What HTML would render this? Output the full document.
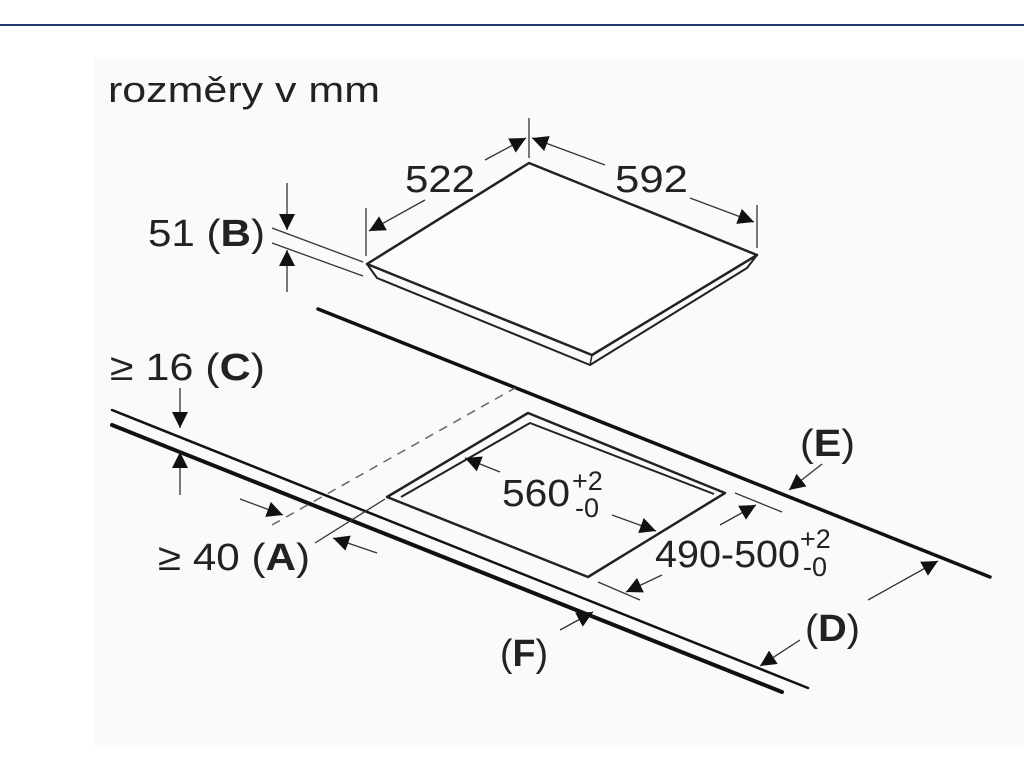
<!DOCTYPE html>
<html><head><meta charset="utf-8"><style>
html,body{margin:0;padding:0;background:#fff;width:1024px;height:768px;overflow:hidden}
svg{display:block}
text{font-family:"Liberation Sans",sans-serif;fill:#222}
</style></head><body>
<svg width="1024" height="768" viewBox="0 0 1024 768" xmlns="http://www.w3.org/2000/svg">
<defs>
<marker id="a" viewBox="0 0 10 10" refX="10" refY="5" markerWidth="16" markerHeight="16" markerUnits="userSpaceOnUse" orient="auto">
<path d="M0,0 L10,5 L0,10 z" fill="#111"/></marker>
</defs>
<rect x="0" y="0" width="1024" height="768" fill="#fff"/>
<rect x="95" y="57" width="929" height="690" fill="#fafafa"/>
<line x1="0" y1="25" x2="1024" y2="25" stroke="#1f3a6a" stroke-width="2"/>

<text x="108" y="102" font-size="36" textLength="272" lengthAdjust="spacingAndGlyphs">rozměry v mm</text>

<g stroke="#222" fill="none" stroke-linejoin="round">
<polygon points="367,264 529,163 757,255 592,355" stroke-width="2.5" fill="#fcfcfc"/>
<polyline points="367,264 377,278 590,365 747,268 757,255" stroke-width="2"/>
<line x1="592" y1="355" x2="590" y2="365" stroke-width="1.5"/>
</g>

<g stroke="#111" stroke-linecap="round">
<line x1="318" y1="309" x2="990" y2="577" stroke-width="3.5"/>
<line x1="112" y1="410" x2="808" y2="688" stroke-width="2.5"/>
<line x1="112" y1="425" x2="782" y2="692" stroke-width="4"/>
</g>
<g stroke="#222" fill="none" stroke-width="2.5" stroke-linejoin="round">
<polygon points="387,497 528,413 725,493 588,577"/>
<polyline points="401,497 530,423 714,494" stroke-width="2"/>
</g>
<line x1="272" y1="525" x2="515" y2="388" stroke="#666" stroke-width="1.5" stroke-dasharray="9,7"/>

<g stroke="#333" stroke-width="1.3" fill="none">
<line x1="366" y1="208" x2="366" y2="256"/>
<line x1="529" y1="118" x2="529" y2="158"/>
<line x1="757" y1="205" x2="757" y2="248"/>
<line x1="272" y1="228" x2="363" y2="262"/>
<line x1="272" y1="243" x2="363" y2="276"/>
<line x1="287" y1="183" x2="287" y2="230" marker-end="url(#a)"/>
<line x1="287" y1="292" x2="287" y2="250" marker-end="url(#a)"/>
<line x1="425" y1="200" x2="369" y2="231" marker-end="url(#a)"/>
<line x1="485" y1="160" x2="526" y2="138" marker-end="url(#a)"/>
<line x1="605" y1="165" x2="532" y2="138" marker-end="url(#a)"/>
<line x1="690" y1="198" x2="754" y2="222" marker-end="url(#a)"/>
<line x1="180" y1="388" x2="180" y2="428" marker-end="url(#a)"/>
<line x1="180" y1="495" x2="180" y2="452" marker-end="url(#a)"/>
<line x1="315" y1="543" x2="385" y2="499"/>
<line x1="240" y1="499" x2="283" y2="515" marker-end="url(#a)"/>
<line x1="377" y1="553" x2="333" y2="538" marker-end="url(#a)"/>
<line x1="500" y1="472" x2="465" y2="458" marker-end="url(#a)"/>
<line x1="612" y1="515" x2="656" y2="531" marker-end="url(#a)"/>
<line x1="735" y1="493" x2="782" y2="512"/>
<line x1="598" y1="582" x2="640" y2="600"/>
<line x1="720" y1="525" x2="756" y2="505" marker-end="url(#a)"/>
<line x1="662" y1="575" x2="626" y2="592" marker-end="url(#a)"/>
<line x1="822" y1="464" x2="789" y2="490" marker-end="url(#a)"/>
<line x1="868" y1="600" x2="938" y2="561" marker-end="url(#a)"/>
<line x1="800" y1="640" x2="760" y2="666" marker-end="url(#a)"/>
<line x1="560" y1="630" x2="593" y2="612" marker-end="url(#a)"/>
</g>

<g font-size="38">
<text x="405" y="192" textLength="70" lengthAdjust="spacingAndGlyphs">522</text>
<text x="615" y="192" textLength="73" lengthAdjust="spacingAndGlyphs">592</text>
<text x="148" y="246" textLength="117" lengthAdjust="spacingAndGlyphs">51 (<tspan font-weight="bold">B</tspan>)</text>
<text x="110" y="380" textLength="155" lengthAdjust="spacingAndGlyphs">≥ 16 (<tspan font-weight="bold">C</tspan>)</text>
<text x="158" y="570" textLength="152" lengthAdjust="spacingAndGlyphs">≥ 40 (<tspan font-weight="bold">A</tspan>)</text>
<text x="800" y="456" textLength="55" lengthAdjust="spacingAndGlyphs">(<tspan font-weight="bold">E</tspan>)</text>
<text x="805" y="641" textLength="55" lengthAdjust="spacingAndGlyphs">(<tspan font-weight="bold">D</tspan>)</text>
<text x="500" y="666" textLength="48" lengthAdjust="spacingAndGlyphs">(<tspan font-weight="bold">F</tspan>)</text>
<text x="502" y="506" textLength="68" lengthAdjust="spacingAndGlyphs">560</text>
<text x="655" y="567" textLength="145" lengthAdjust="spacingAndGlyphs">490-500</text>
</g>
<g font-size="27">
<text x="572" y="490">+2</text>
<text x="575" y="517">-0</text>
<text x="800" y="548">+2</text>
<text x="803" y="576">-0</text>
</g>
</svg>
</body></html>
